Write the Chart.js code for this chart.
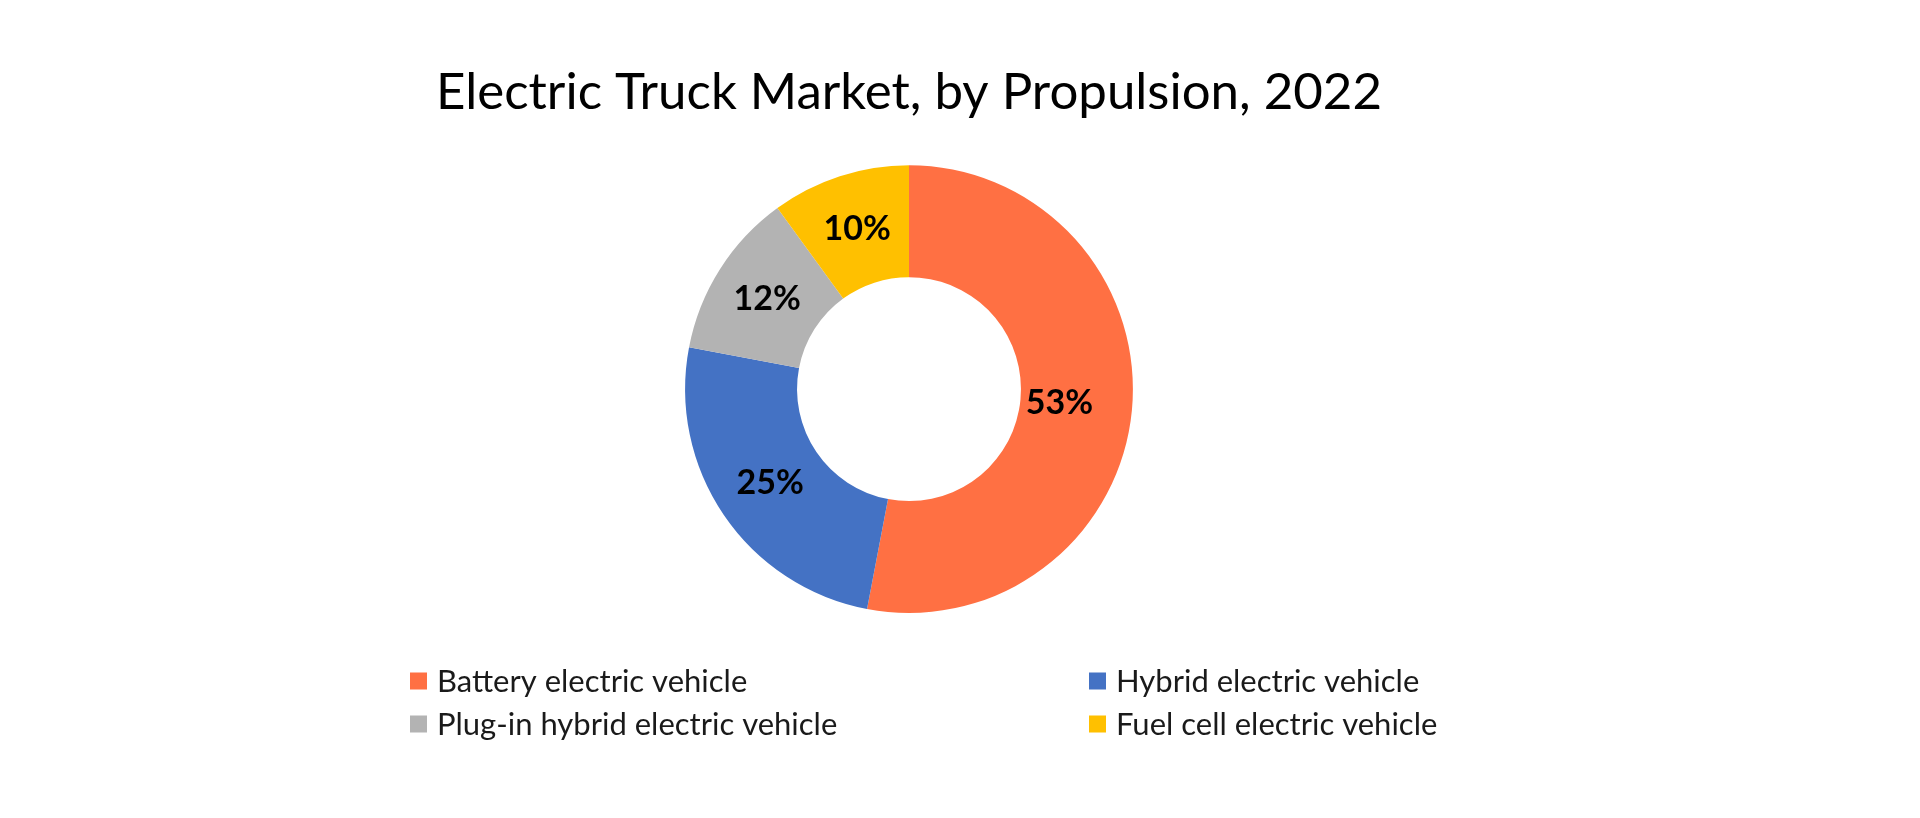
<!DOCTYPE html>
<html>
<head>
<meta charset="utf-8">
<script src="https://cdn.jsdelivr.net/npm/chart.js@4.4.0/dist/chart.umd.min.js"></script>
<style>
  html, body { margin: 0; padding: 0; background: #fff; }
  #wrap { width: 1920px; height: 818px; position: relative; }
</style>
</head>
<body>
<div id="wrap"><canvas id="truckChart" width="1920" height="818"></canvas></div>
<script>
const categories = ['Battery electric vehicle', 'Hybrid electric vehicle', 'Plug-in hybrid electric vehicle', 'Fuel cell electric vehicle'];
const shares = [53, 25, 12, 10];
const sliceColors = ['#FF7043', '#4472C4', '#B3B3B3', '#FFC000'];
const chartTitle = 'Electric Truck Market, by Propulsion, 2022';

// order of legend cells: row by row, two columns
const legendOrder = [0, 1, 2, 3];

// percentage labels in the middle of each ring slice
const sliceLabels = {
    id: 'sliceLabels',
    afterDatasetsDraw(chart) {
        const ctx = chart.ctx;
        const meta = chart.getDatasetMeta(0);
        ctx.save();
        ctx.font = 'bold 34px Lato';
        ctx.fillStyle = '#000';
        ctx.textAlign = 'center';
        ctx.textBaseline = 'middle';
        meta.data.forEach((arc, i) => {
            const pos = arc.tooltipPosition();
            // the big slice label sits a bit further in, as in the original
            const pull = i === 0 ? 0.9 : 1;
            const x = arc.x + (pos.x - arc.x) * pull;
            const y = arc.y + (pos.y - arc.y) * pull;
            ctx.fillText(shares[i] + '%', x, y);
        });
        ctx.restore();
    }
};

// two column legend under the ring
const gridLegend = {
    id: 'gridLegend',
    afterDraw(chart) {
        const ctx = chart.ctx;
        const colX = [410, 1089];
        const rowY = [681, 724];
        const box = 17;
        ctx.save();
        ctx.font = '31px Lato';
        ctx.textBaseline = 'middle';
        ctx.textAlign = 'left';
        legendOrder.forEach((idx, n) => {
            const x = colX[n % 2];
            const y = rowY[Math.floor(n / 2)];
            ctx.fillStyle = chart.data.datasets[0].backgroundColor[idx];
            ctx.fillRect(x, y - box / 2, box, box);
            ctx.fillStyle = '#1a1a1a';
            ctx.fillText(chart.data.labels[idx], x + 27, y + 1);
        });
        ctx.restore();
    }
};

const ctx = document.getElementById('truckChart').getContext('2d');
const truckChart = new Chart(ctx, {
    type: 'doughnut',
    data: {
        labels: categories,
        datasets: [{
            data: shares,
            backgroundColor: sliceColors,
            borderWidth: 0
        }]
    },
    options: {
        responsive: false,
        animation: false,
        cutout: '50%',
        layout: {
            padding: { top: 40, bottom: 205, left: 0, right: 102 }
        },
        plugins: {
            legend: { display: false },
            tooltip: { enabled: false },
            title: {
                display: true,
                text: chartTitle,
                color: '#000',
                font: { family: 'Lato', size: 51, weight: 'normal' },
                padding: { top: 22, bottom: 42 }
            }
        }
    },
    plugins: [sliceLabels, gridLegend]
});
</script>
</body>
</html>
